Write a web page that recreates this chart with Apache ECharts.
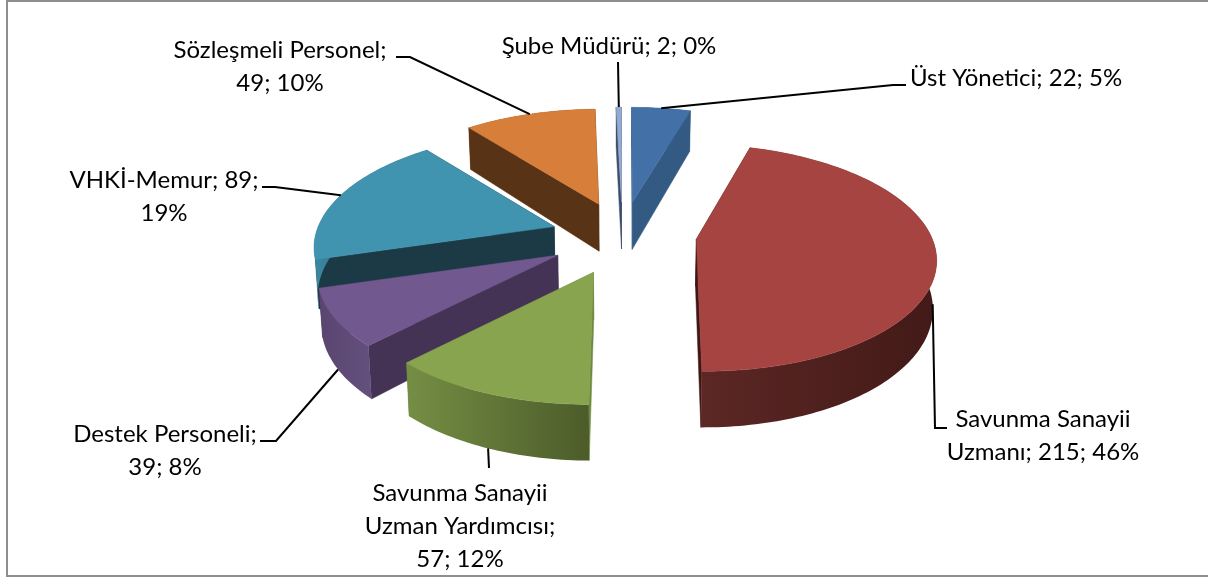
<!DOCTYPE html>
<html>
<head>
<meta charset="utf-8">
<style>html,body{margin:0;padding:0;background:#fff}#c{width:1208px;height:579px}</style>
<script src="https://cdn.jsdelivr.net/npm/echarts@6/dist/echarts.min.js"></script>
</head>
<body>
<div id="c"></div>
<script>
// ---- data ----
const categories = ["Üst Yönetici","Savunma Sanayii Uzmanı","Savunma Sanayii Uzman Yardımcısı","Destek Personeli","VHKİ-Memur","Sözleşmeli Personel","Şube Müdürü"];
const values = [22,215,57,39,89,49,2];
const labelTexts = ["Üst Yönetici; 22; 5%","Savunma Sanayii\nUzmanı; 215; 46%","Savunma Sanayii\nUzman Yardımcısı;\n57; 12%","Destek Personeli;\n39; 8%","VHKİ-Memur; 89;\n19%","Sözleşmeli Personel;\n49; 10%","Şube Müdürü; 2; 0%"];
const paintOrder = [0,6,5,4,3,2,1];

// ---- styles ----
const topColors = ["#4371a7","#a54441","#88a44f","#71588f","#4094af","#d77f3a","#94aad3"];
const cutColors = ["#335a82","#3f1614","#6f8a40","#443355","#1b3a46","#583316","#3d4d68"];
const rimStops = [
  ["#335a82","#335a82"],["#5c2725","#421a17"],["#758e44","#4c5c2a"],
  ["#5a4570","#64507e"],["#3a8aa3","#1b3a46"],["#583316","#583316"],["#3d4d68","#3d4d68"]
];
// label anchor (text position), alignment, leader elbows
const labelLayout = [
  {x:910,y:78,align:"left",elbows:[[893,85],[906,85]]},
  {x:1043,y:436,align:"center",elbows:[[935,428],[947,428]]},
  {x:460,y:526,align:"center",elbows:[[489,468]]},
  {x:165,y:451,align:"center",elbows:[[276,441],[260,441]]},
  {x:164,y:197,align:"center",elbows:[[275,187],[262,187]]},
  {x:280,y:67,align:"center",elbows:[[410,57],[396,57]]},
  {x:609,y:46,align:"center",elbows:[[618,62]]}
];
// per-slice nudges of the explode position and projection settings
const apexNudge = [[0,0],[1,-3],[0,3],[0,0],[4,0],[3,0],[1,0]];
const view = {cx:621.5,cy:237,ex:74.7,ey:35,rx:236,ry:110.5,p:0.163,thick:47,taper:0.012,global:0.5};

const total = values.reduce((a,b)=>a+b,0);
const starts = []; let acc = 0;
values.forEach(v=>{starts.push(acc/total*Math.PI*2); acc+=v;});

function renderSlice(params, api){
  const i = api.value(1);
  const a0 = starts[i], a1 = a0 + api.value(0)/total*Math.PI*2, mid=(a0+a1)/2;
  const ax = view.cx + view.ex*Math.sin(mid) + apexNudge[i][0], ay = view.cy - view.ey*Math.cos(mid) + apexNudge[i][1];
  const top = (r,a)=>{const X=r*Math.sin(a),Y=-r*Math.cos(a),d=1-view.p*Y;
    return [ax+view.rx*X/d+(ax-view.cx)*(1/d-1)*view.global, ay+view.ry*Y/d];};
  const bot = (r,a)=>{const X=r*Math.sin(a),Y=-r*Math.cos(a),d=1-view.p*Y,q=top(r,a);
    return [q[0]+(view.cx-q[0])*view.taper, q[1]+view.thick/d];};
  const n = Math.max(2,Math.ceil((a1-a0)/0.02));
  const topArc=[],botArc=[];
  for(let k=0;k<=n;k++){const a=a0+(a1-a0)*k/n;topArc.push(top(1,a));botArc.push(bot(1,a));}
  const A=top(0,0),B=bot(0,0);
  const poly=(points,fill,z2)=>({type:"polygon",z2:z2||1,shape:{points},
    style:{fill,stroke:typeof fill==="string"?fill:null,lineWidth:typeof fill==="string"?0.5:0}});
  const rimFill=new echarts.graphic.LinearGradient(0,0,1,0,[{offset:0,color:rimStops[i][0]},{offset:1,color:rimStops[i][1]}]);
  const children=[
    poly([A,topArc[0],botArc[0],B],cutColors[i]),
    poly([A,topArc[n],botArc[n],B],cutColors[i]),
    poly(topArc.concat(botArc.slice().reverse()),rimFill),
    poly([A].concat(topArc),topColors[i],2)
  ];
  // leader line: from the slice's rim at its mid angle to the label
  const front=-Math.cos(mid)>0;
  const anchor=front?bot(1,mid):top(1,mid);
  const L=labelLayout[i];
  children.push({type:"polyline",z2:100,shape:{points:[anchor].concat(L.elbows)},
    style:{stroke:"#000",lineWidth:2,fill:null}});
  children.push({type:"text",z2:101,style:{text:labelTexts[i],x:L.x,y:L.y,align:L.align,verticalAlign:"middle",
    font:"24px Lato",lineHeight:33,fill:"#000"}});
  return {type:"group",children};
}

const chart = echarts.init(document.getElementById("c"));
chart.setOption({
  animation:false,
  backgroundColor:"#fff",
  graphic:[{type:"rect",silent:true,shape:{x:7,y:1,width:1215,height:575},style:{fill:null,stroke:"#8e8e8e",lineWidth:2}}],
  series:[{
    type:"custom",coordinateSystem:"none",silent:true,
    renderItem:renderSlice,
    data:paintOrder.map(i=>[values[i],i,categories[i]])
  }]
});
</script>
</body>
</html>
